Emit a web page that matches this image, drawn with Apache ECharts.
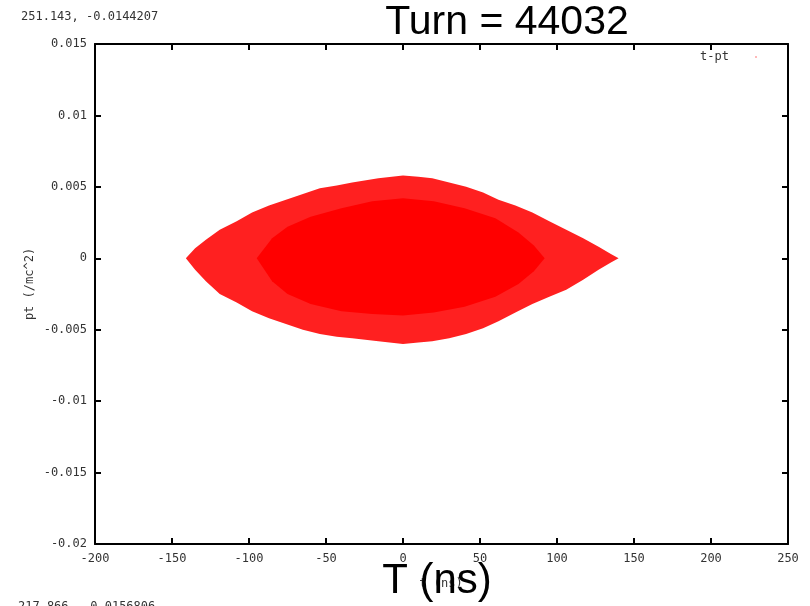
<!DOCTYPE html>
<html>
<head>
<meta charset="utf-8">
<script src="https://cdn.jsdelivr.net/npm/echarts@6/dist/echarts.min.js"></script>
<style>
html,body{margin:0;padding:0;background:#fff;}
#chart{width:810px;height:606px;}
</style>
</head>
<body>
<div id="chart"></div>
<script>
// Outer envelope of the particle cloud (sparse, speckled edge)
var outerT     = [-141, -135, -128, -119, -108, -98, -87, -76, -65, -54, -43, -33, -16, 0, 10, 19, 30, 41, 52, 62, 73, 84, 95, 106, 117, 127, 135, 140];
var outerUpper = [0, 0.0007, 0.0013, 0.0020, 0.0026, 0.0032, 0.0037, 0.0041, 0.0045, 0.0049, 0.0051, 0.0053, 0.0056, 0.0058, 0.0057, 0.0056, 0.0053, 0.0050, 0.0046, 0.0041, 0.0037, 0.0032, 0.0026, 0.0020, 0.0014, 0.0008, 0.0003, 0];
var outerLower = [0, -0.0008, -0.0016, -0.0025, -0.0031, -0.0037, -0.0042, -0.0046, -0.0050, -0.0053, -0.0055, -0.0056, -0.0058, -0.0060, -0.0059, -0.0058, -0.0056, -0.0053, -0.0049, -0.0044, -0.0038, -0.0032, -0.0027, -0.0022, -0.0015, -0.0008, -0.0003, 0];
// Dense core of the cloud
var coreT     = [-95, -85, -75, -60, -40, -20, 0, 20, 40, 60, 75, 85, 92];
var coreUpper = [0, 0.0014, 0.0022, 0.0029, 0.0035, 0.0040, 0.0042, 0.0040, 0.0035, 0.0028, 0.0018, 0.0009, 0];
var coreLower = [0, -0.0016, -0.0025, -0.0032, -0.0037, -0.0039, -0.0040, -0.0038, -0.0034, -0.0027, -0.0018, -0.0009, 0];

var xTicks = [-200, -150, -100, -50, 0, 50, 100, 150, 200, 250];
var yTicks = [-0.02, -0.015, -0.01, -0.005, 0, 0.005, 0.01, 0.015];

var titleText = 'Turn = 44032';
var xLabelBig = 'T (ns)';
var xLabelSmall = 't (ns)';
var yLabel = 'pt (/mc^2)';
var legendText = 't-pt';
var coordTop = '251.143, -0.0144207';
var coordBottom = '217.866, -0.0156806';

function polygonItem(ts, up, lo, color) {
  return function (params, api) {
    var pts = [];
    for (var i = 0; i < ts.length; i++) pts.push(api.coord([ts[i], up[i]]));
    for (var j = ts.length - 1; j >= 0; j--) pts.push(api.coord([ts[j], lo[j]]));
    return { type: 'polygon', shape: { points: pts }, style: { fill: color } };
  };
}

var monoFont = 'DejaVu Sans Mono';
var tickLabel = { color: '#333', fontFamily: monoFont, fontSize: 12,
  formatter: function (v) { return String(Number(v.toFixed(4))); } };
var axLine = { onZero: false, lineStyle: { color: '#000', width: 2 } };
var axTick = { inside: true, length: 6, lineStyle: { color: '#000', width: 2 } };

var chart = echarts.init(document.getElementById('chart'), null, { renderer: 'canvas' });
chart.setOption({
  animation: false,
  backgroundColor: '#fff',
  grid: { left: 95, right: 22, top: 44, bottom: 62 },
  xAxis: [
    { type: 'value', min: xTicks[0], max: xTicks[xTicks.length - 1], interval: 50, position: 'bottom',
      axisLine: axLine, axisTick: axTick, splitLine: { show: false },
      axisLabel: Object.assign({ margin: 9 }, tickLabel) },
    { type: 'value', min: xTicks[0], max: xTicks[xTicks.length - 1], interval: 50, position: 'top',
      axisLine: axLine, axisTick: axTick, splitLine: { show: false }, axisLabel: { show: false } }
  ],
  yAxis: [
    { type: 'value', min: yTicks[0], max: yTicks[yTicks.length - 1], interval: 0.005, position: 'left',
      axisLine: axLine, axisTick: axTick, splitLine: { show: false },
      axisLabel: Object.assign({ margin: 8 }, tickLabel) },
    { type: 'value', min: yTicks[0], max: yTicks[yTicks.length - 1], interval: 0.005, position: 'right',
      axisLine: axLine, axisTick: axTick, splitLine: { show: false }, axisLabel: { show: false } }
  ],
  series: [
    { type: 'custom', name: 'outer', silent: true, xAxisIndex: 0, yAxisIndex: 0,
      renderItem: polygonItem(outerT, outerUpper, outerLower, '#ff2020'), data: [[0, 0]] },
    { type: 'custom', name: 'core', silent: true, xAxisIndex: 0, yAxisIndex: 0,
      renderItem: polygonItem(coreT, coreUpper, coreLower, '#ff0000'), data: [[0, 0]] }
  ],
  graphic: [
    { type: 'text', left: 21, top: 11, style: { text: coordTop, font: '12px "DejaVu Sans Mono"', fill: '#333' } },
    { type: 'text', x: 18, y: 601, style: { text: coordBottom, font: '12px "DejaVu Sans Mono"', fill: '#333' } },
    { type: 'text', x: 507, y: 23, style: { text: titleText, font: '41px "Liberation Sans"', fill: '#000', textAlign: 'center', textVerticalAlign: 'middle' } },
    { type: 'text', x: 441, y: 584, style: { text: xLabelSmall, font: '12px "DejaVu Sans Mono"', fill: '#333', textAlign: 'center', textVerticalAlign: 'middle' } },
    { type: 'text', x: 437, y: 581, style: { text: xLabelBig, font: '42px "Liberation Sans"', fill: '#000', textAlign: 'center', textVerticalAlign: 'middle' } },
    { type: 'text', x: 30, y: 284, rotation: Math.PI / 2, style: { text: yLabel, font: '12px "DejaVu Sans Mono"', fill: '#333', textAlign: 'center', textVerticalAlign: 'middle' } },
    { type: 'text', x: 729, y: 57, style: { text: legendText, font: '12px "DejaVu Sans Mono"', fill: '#333', textAlign: 'right', textVerticalAlign: 'middle' } },
    { type: 'circle', shape: { cx: 756, cy: 57, r: 0.8 }, style: { fill: '#ff6060' } }
  ]
});
</script>
</body>
</html>
